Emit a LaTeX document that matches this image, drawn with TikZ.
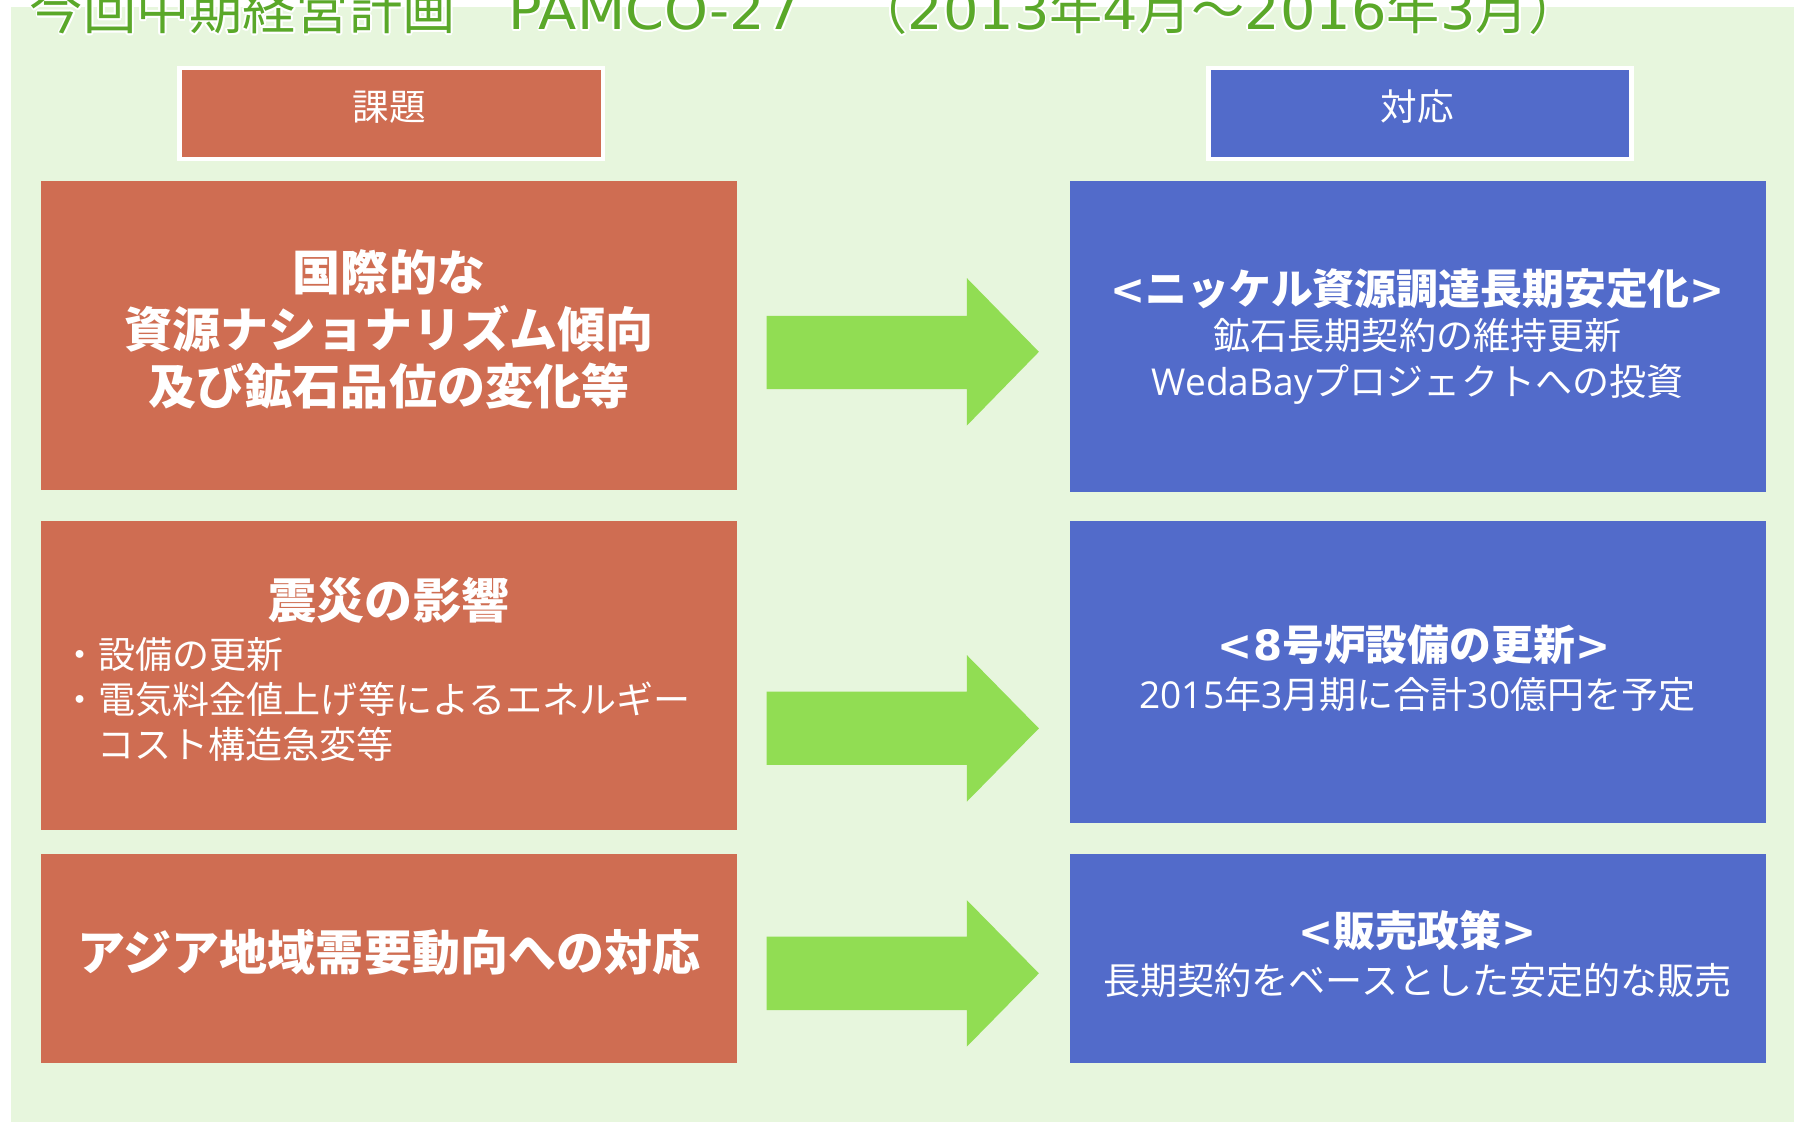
\documentclass[tikz,border=0pt]{standalone}
\usepackage{fontspec}
\setmainfont{Noto Sans CJK JP}
\newfontfamily\lt{DejaVu Sans}
\newfontfamily\ltw{DejaVu Sans}[FakeStretch=1.05]
\newfontfamily\lo{Open Sans}
\definecolor{orangeC}{HTML}{CF6D52}
\definecolor{blueC}{HTML}{526BCA}
\definecolor{arrowG}{HTML}{91DD53}
\definecolor{bgG}{HTML}{E7F6DD}
\definecolor{titleG}{HTML}{5AA829}
\newcommand\mytitletext{今回中期経営計画　{\ltw PAMCO-27}　（{\ltw 2013}年{\ltw 4}月～{\ltw 2016}年{\ltw 3}月）}
\begin{document}
\begin{tikzpicture}[x=1bp,y=-1bp,
  boxL/.style={fill=orangeC, draw=none, inner sep=0, anchor=north west},
  boxR/.style={fill=blueC, draw=none, inner sep=0, anchor=north west},
  hdr/.style={draw=white, line width=4bp, inner sep=0, anchor=north west, minimum width=370bp, minimum height=79.5bp},
  txtB/.style={text=white, inner sep=0, anchor=base, font=\bfseries\fontsize{42bp}{46bp}\selectfont},
  txtBR/.style={text=white, inner sep=0, anchor=base, font=\bfseries\fontsize{36.6bp}{40bp}\selectfont},
  txtR/.style={text=white, inner sep=0, anchor=base, font=\fontsize{32.4bp}{36bp}\selectfont},
  txtRL/.style={txtR, anchor=base west},
  txtH/.style={text=white, inner sep=0, anchor=base, font=\fontsize{32bp}{36bp}\selectfont},
  titlefont/.style={anchor=base west, inner sep=0, font=\fontsize{46.5bp}{50bp}\selectfont},
  bigarrow/.style={fill=arrowG, draw=none}]
\useasboundingbox (0,0) rectangle (1568,980);
\fill[white] (-10,-60) rectangle (1600,1000);
\fill[bgG] (10,6) rectangle (1600,1000);

% title with white halo
\foreach \a in {0,30,...,330}
  \node[titlefont, text=white] (titleh\a) at ([shift={(\a:1.6)}]26,26) {\mytitletext};
\node[titlefont, text=titleG] (title) at (26,26) {\mytitletext};

% headers
\node[hdr, fill=orangeC] (hL) at (155,57.5) {};
\node[hdr, fill=blueC] (hR) at (1054,57.5) {};
\node[txtH] (hLt) at (340,105) {課題};
\node[txtH] (hRt) at (1239,105) {対応};

% boxes
\node[boxL, minimum width=608bp, minimum height=270bp] (L1) at (36,158) {};
\node[boxL, minimum width=608bp, minimum height=270bp] (L2) at (36,455) {};
\node[boxL, minimum width=608bp, minimum height=183bp] (L3) at (36,746) {};
\node[boxR, minimum width=608bp, minimum height=272bp] (R1) at (935,158) {};
\node[boxR, minimum width=608bp, minimum height=264bp] (R2) at (935,455) {};
\node[boxR, minimum width=608bp, minimum height=183bp] (R3) at (935,746) {};

% left texts
\node[txtB] (L1a) at (340,254) {国際的な};
\node[txtB] (L1b) at (340,304) {資源ナショナリズム傾向};
\node[txtB] (L1c) at (340,353.5) {及び鉱石品位の変化等};
\node[txtB] (L2a) at (340,541) {震災の影響};
\node[txtRL] (L2b) at (53.5,584) {・設備の更新};
\node[txtRL] (L2c) at (53.5,623.5) {・電気料金値上げ等によるエネルギー};
\node[txtRL] (L2d) at (85,662.8) {コスト構造急変等};
\node[txtB] (L3a) at (340,848) {アジア地域需要動向への対応};

% right texts
\node[txtBR] (R1a) at (1239,266) {{\lt <}ニッケル資源調達長期安定化{\lt >}};
\node[txtR] (R1b) at (1239,305.2) {鉱石長期契約の維持更新};
\node[txtR] (R1c) at (1239,346) {{\lo WedaBay}プロジェクトへの投資};
\node[txtBR] (R2a) at (1236,577) {{\lt <8}号炉設備の更新{\lt >}};
\node[txtR] (R2b) at (1239,619) {{\lo 2015}年{\lo 3}月期に合計{\lo 30}億円を予定};
\node[txtBR] (R3a) at (1239,827.6) {{\lt <}販売政策{\lt >}};
\node[txtR] (R3b) at (1239,869) {長期契約をベースとした安定的な販売};

% block arrows
\fill[bigarrow] (670,276) -- (845,276) -- (845,243) -- (908,307.5) -- (845,372) -- (845,340) -- (670,340) -- cycle;
\fill[bigarrow] (670,604.5) -- (845,604.5) -- (845,572.5) -- (908,636.6) -- (845,700.7) -- (845,668.6) -- (670,668.6) -- cycle;
\fill[bigarrow] (670,818.7) -- (845,818.7) -- (845,786.7) -- (908,850.7) -- (845,914.8) -- (845,882.8) -- (670,882.8) -- cycle;
\end{tikzpicture}
\end{document}
